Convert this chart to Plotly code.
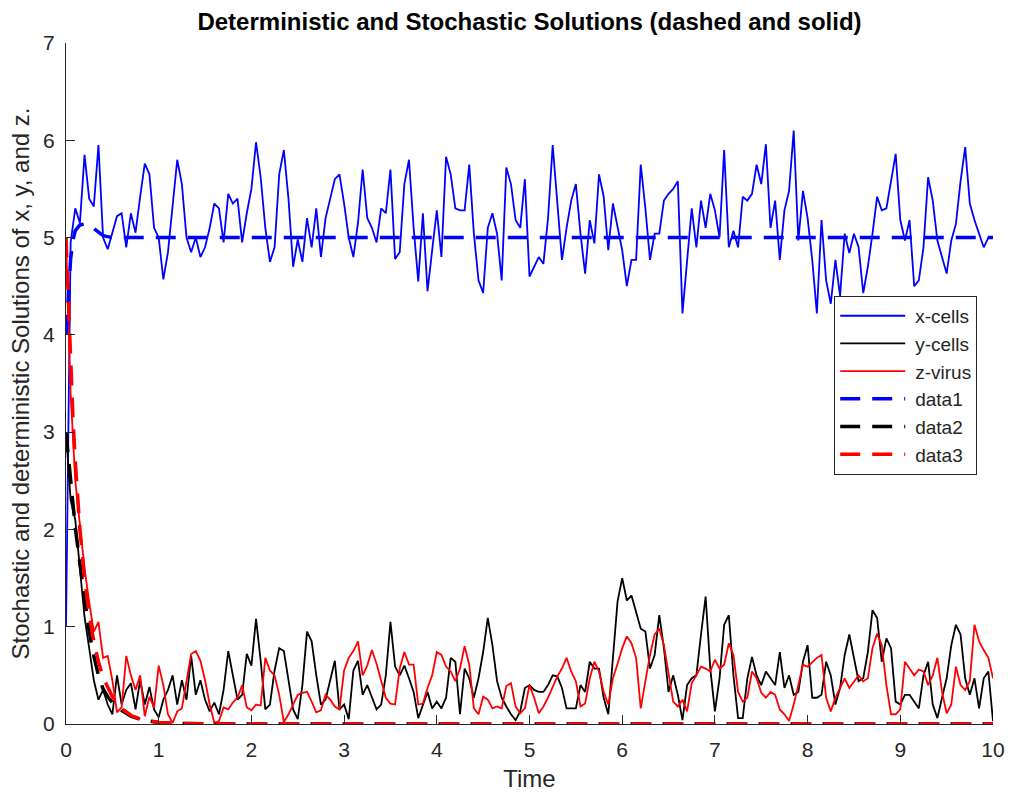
import numpy as np
import plotly.graph_objects as go

# Stochastic simulation, sampled every 0.05 time units on [0, 10]
T_STEP = 0.05
X_CELLS = [
    1.0, 4.95, 5.3, 5.15, 5.85, 5.4, 5.32, 5.95, 5.0, 4.88,
    5.05, 5.22, 5.25, 4.9, 5.25, 5.05, 5.42, 5.76, 5.65, 5.1,
    5.0, 4.57, 4.85, 5.35, 5.8, 5.55, 5.0, 4.85, 5.0, 4.8,
    4.9, 5.1, 5.35, 5.3, 4.95, 5.45, 5.35, 5.4, 4.95, 5.25,
    5.5, 5.98, 5.62, 5.1, 4.75, 4.9, 5.65, 5.9, 5.4, 4.7,
    4.98, 4.75, 5.2, 4.9, 5.3, 4.8, 5.2, 5.4, 5.6, 5.65,
    5.35, 5.0, 4.8, 5.15, 5.7, 5.2, 5.1, 4.95, 5.3, 5.25,
    5.7, 4.78, 4.85, 5.55, 5.8, 5.1, 4.55, 5.25, 4.45, 4.87,
    5.28, 4.8, 5.83, 5.65, 5.3, 5.28, 5.28, 5.75, 5.04, 4.56,
    4.43, 5.1, 5.25, 5.04, 4.56, 5.72, 5.55, 5.18, 5.1, 5.6,
    4.6, 4.7, 4.8, 4.73, 5.2, 5.95, 5.38, 4.77, 5.1, 5.38,
    5.55, 5.04, 4.63, 5.18, 4.94, 5.65, 5.42, 4.87, 5.35, 5.1,
    4.87, 4.5, 4.77, 4.77, 5.75, 5.3, 4.77, 5.04, 5.04, 5.38,
    5.45, 5.5, 5.58, 4.22, 4.77, 5.3, 4.9, 5.38, 5.1, 5.45,
    5.28, 5.0, 5.9, 4.9, 5.07, 4.9, 5.42, 5.38, 5.45, 5.75,
    5.55, 5.96, 5.1, 5.38, 4.77, 5.28, 5.48, 6.1, 4.97, 5.48,
    5.2, 4.77, 4.22, 5.18, 4.56, 4.32, 4.77, 4.4, 5.04, 4.84,
    5.04, 4.9, 4.43, 4.7, 5.04, 5.42, 5.28, 5.3, 5.58, 5.86,
    5.18, 4.97, 5.18, 4.5, 4.56, 4.9, 5.62, 5.38, 4.97, 4.8,
    4.63, 4.97, 5.14, 5.58, 5.93, 5.35, 5.18, 5.04, 4.9, 5.0,
    5.0,
]
Y_CELLS = [
    3.0, 2.3, 2.1, 1.6, 1.1, 0.78, 0.45, 0.25, 0.35, 0.2,
    0.1, 0.5, 0.2, 0.35, 0.42, 0.15, 0.45, 0.2, 0.38, 0.15,
    0.07, 0.25, 0.35, 0.5, 0.2, 0.45, 0.25, 0.7, 0.3, 0.45,
    0.25, 0.13, 0.22, 0.1, 0.35, 0.75, 0.5, 0.25, 0.3, 0.72,
    0.6, 1.08, 0.65, 0.15, 0.2, 0.55, 0.78, 0.75, 0.45, 0.15,
    0.05, 0.4, 0.95, 0.85, 0.5, 0.2, 0.25, 0.45, 0.65, 0.15,
    0.2, 0.05, 0.55, 0.65, 0.3, 0.4, 0.27, 0.15, 0.2, 0.5,
    1.05, 0.59, 0.5, 0.6, 0.47, 0.33, 0.06, 0.2, 0.33, 0.16,
    0.23, 0.16, 0.27, 0.68, 0.64, 0.1, 0.57, 0.47, 0.27, 0.47,
    0.74, 1.09, 0.81, 0.44, 0.27, 0.18, 0.1, 0.04, 0.13, 0.37,
    0.4, 0.35, 0.33, 0.33, 0.4, 0.5, 0.49, 0.37, 0.16, 0.16,
    0.16, 0.4, 0.33, 0.64, 0.57, 0.57, 0.27, 0.1, 0.64, 1.26,
    1.5, 1.27, 1.32, 1.15, 0.98, 0.95, 0.57, 0.71, 1.12, 0.78,
    0.33, 0.5, 0.3, 0.04, 0.4, 0.47, 0.5, 0.92, 1.31, 0.57,
    0.13, 0.47, 1.02, 1.12, 0.5, 0.06, 0.06, 0.47, 0.69, 0.5,
    0.4, 0.54, 0.47, 0.4, 0.74, 0.37, 0.5, 0.3, 0.33, 0.64,
    0.81, 0.27, 0.27, 0.3, 0.64, 0.5, 0.2, 0.37, 0.71, 0.92,
    0.68, 0.44, 0.47, 0.74, 1.17, 1.09, 0.64, 0.88, 0.78, 0.23,
    0.2, 0.3, 0.3, 0.23, 0.16, 0.5, 0.64, 0.2, 0.06, 0.27,
    0.47, 0.81, 1.02, 0.92, 0.47, 0.3, 0.47, 0.16, 0.47, 0.54,
    0.03,
]
Z_VIRUS = [
    5.0, 3.4, 2.5, 2.05, 1.6, 1.25, 0.95, 1.05, 0.68, 0.7,
    0.45, 0.12, 0.17, 0.7, 0.5, 0.35, 0.5, 0.08, 0.28, 0.17,
    0.6, 0.4, 0.1, 0.01, 0.13, 0.16, 0.45, 0.72, 0.75, 0.65,
    0.45, 0.2, 0.01, 0.03, 0.17, 0.15, 0.22, 0.27, 0.4, 0.17,
    0.14, 0.2, 0.19, 0.68, 0.55, 0.5, 0.3, 0.02, 0.1, 0.2,
    0.3, 0.32, 0.33, 0.23, 0.12, 0.14, 0.3, 0.25, 0.18, 0.15,
    0.55, 0.68, 0.75, 0.85, 0.5, 0.6, 0.76, 0.62, 0.45, 0.27,
    0.21, 0.2, 0.57, 0.74, 0.61, 0.61, 0.2, 0.21, 0.37, 0.5,
    0.74, 0.71, 0.59, 0.54, 0.44, 0.57, 0.8, 0.61, 0.16, 0.1,
    0.28, 0.25, 0.16, 0.18, 0.16, 0.39, 0.42, 0.18, 0.11, 0.16,
    0.4, 0.27, 0.11, 0.18, 0.27, 0.39, 0.49, 0.57, 0.68, 0.54,
    0.44, 0.18, 0.21, 0.47, 0.64, 0.54, 0.33, 0.2, 0.47, 0.62,
    0.78, 0.9, 0.83, 0.68, 0.16, 0.44, 0.71, 0.92, 0.98, 0.81,
    0.5, 0.23, 0.18, 0.25, 0.13, 0.42, 0.5, 0.59, 0.57, 0.54,
    0.66, 0.57, 0.61, 0.83, 0.71, 0.33, 0.23, 0.27, 0.54, 0.47,
    0.32, 0.27, 0.33, 0.3, 0.15, 0.1, 0.03, 0.2, 0.4, 0.61,
    0.59, 0.64, 0.68, 0.71, 0.27, 0.13, 0.27, 0.37, 0.47, 0.37,
    0.44, 0.5, 0.44, 0.47, 0.78, 0.93, 0.81, 0.4, 0.1, 0.1,
    0.15, 0.64, 0.57, 0.5, 0.56, 0.54, 0.4, 0.5, 0.68, 0.33,
    0.11, 0.2, 0.59, 0.4, 0.35, 0.44, 1.02, 0.85, 0.76, 0.68,
    0.47,
]

# Deterministic (ODE) solution
DET_T = [0, 0.025, 0.05, 0.075, 0.1, 0.15, 0.2, 0.25, 0.3, 0.35, 0.4, 0.45,
         0.5, 0.6, 0.7, 0.8, 0.9, 1.0, 1.2, 1.5, 2, 3, 4, 5, 6, 7, 8, 9, 10]
X_DET = [4.0, 4.45, 4.78, 4.97, 5.07, 5.13, 5.14, 5.13, 5.09, 5.05, 5.02, 5.01,
         5.0, 5.0, 5.0, 5.0, 5.0, 5.0, 5.0, 5.0, 5.0, 5.0, 5.0, 5.0, 5.0, 5.0,
         5.0, 5.0, 5.0]
Y_DET = [3.0, 2.75, 2.5, 2.25, 2.02, 1.65, 1.3, 0.95, 0.7, 0.5, 0.36, 0.28,
         0.22, 0.14, 0.08, 0.05, 0.03, 0.015, 0.005, 0.0, 0.0, 0.0, 0.0, 0.0,
         0.0, 0.0, 0.0, 0.0, 0.0]
Z_DET = [5.0, 4.3, 3.7, 3.15, 2.7, 2.0, 1.5, 1.12, 0.85, 0.64, 0.48, 0.37,
         0.28, 0.16, 0.09, 0.05, 0.03, 0.015, 0.005, 0.0, 0.0, 0.0, 0.0, 0.0,
         0.0, 0.0, 0.0, 0.0, 0.0]

X_TICKS = list(range(0, 11))
Y_TICKS = list(range(0, 8))

t = np.arange(len(X_CELLS)) * T_STEP

FONT = "Liberation Sans, Arial, sans-serif"
INK = "#262626"
DASH = "20px,12px"

fig = go.Figure()
fig.add_trace(go.Scatter(x=t, y=X_CELLS, mode="lines", name="x-cells",
                         line=dict(color="#0000ff", width=1.8)))
fig.add_trace(go.Scatter(x=t, y=Y_CELLS, mode="lines", name="y-cells",
                         line=dict(color="#000000", width=1.8)))
fig.add_trace(go.Scatter(x=t, y=Z_VIRUS, mode="lines", name="z-virus",
                         line=dict(color="#ff0000", width=1.8)))
fig.add_trace(go.Scatter(x=DET_T, y=X_DET, mode="lines", name="data1",
                         line=dict(color="#0000ff", width=3.5, dash=DASH)))
fig.add_trace(go.Scatter(x=DET_T, y=Y_DET, mode="lines", name="data2",
                         line=dict(color="#000000", width=3.5, dash=DASH)))
fig.add_trace(go.Scatter(x=DET_T, y=Z_DET, mode="lines", name="data3",
                         line=dict(color="#ff0000", width=3.5, dash=DASH)))

axis_common = dict(
    showgrid=False, zeroline=False, showline=True, linecolor=INK, linewidth=1,
    ticks="inside", ticklen=9, tickcolor=INK, tickwidth=1,
    tickfont=dict(family=FONT, size=21, color=INK),
    mirror=False,
)

fig.update_layout(
    width=1017, height=799,
    margin=dict(l=66, r=17, t=43, b=72),
    paper_bgcolor="white", plot_bgcolor="white",
    font=dict(family=FONT, color=INK),
    title=dict(
        text="<b>Deterministic and Stochastic Solutions (dashed and solid)</b>",
        font=dict(family=FONT, size=24, color="#000000"),
        x=0.5, xref="paper", xanchor="center",
        y=1 - 22 / 799, yref="container", yanchor="middle",
    ),
    xaxis=dict(axis_common, range=[0, 10], tickvals=X_TICKS,
               ticklabelstandoff=7,
               title=dict(text="Time", font=dict(family=FONT, size=24, color=INK),
                          standoff=9)),
    yaxis=dict(axis_common, range=[0, 7], tickvals=Y_TICKS,
               ticklabelstandoff=6,
               title=dict(text="Stochastic and deterministic Solutions of x, y, and z.",
                          font=dict(family=FONT, size=24, color=INK),
                          standoff=6)),
    legend=dict(
        x=(840 - 66) / 934, y=(727 - 297) / 684, xanchor="left", yanchor="top",
        bgcolor="white", bordercolor=INK, borderwidth=1,
        font=dict(family=FONT, size=19, color=INK),
        itemwidth=70, tracegroupgap=0,
    ),
    showlegend=True,
)

# Lengthen the legend line samples to span the widened item slot
fig.write_html(
    "out.html",
    post_script="document.querySelectorAll('.legendlines path')"
                ".forEach(function(p){p.setAttribute('d','M5,0h65');});",
)
